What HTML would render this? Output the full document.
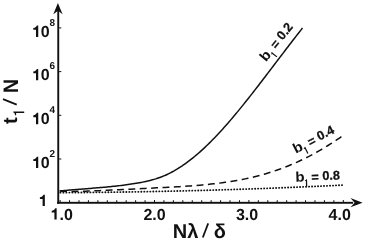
<!DOCTYPE html>
<html><head><meta charset="utf-8"><style>
html,body{margin:0;padding:0;background:#fff;}
svg{display:block;filter:grayscale(1);}
text{font-family:"Liberation Sans",sans-serif;font-weight:bold;text-rendering:geometricPrecision;}
.t16{font-size:16px;}
.t8{font-size:10px;}
.lb{font-size:14px;}
.lv{font-size:12.7px;stroke:#111;stroke-width:0.25px;}
</style></head><body>
<svg width="366" height="241" viewBox="0 0 366 241">
<rect width="366" height="241" fill="#fff"/>
<g fill="#111">
<rect x="57.3" y="10" width="1.9" height="193.8"/>
<rect x="57.1" y="201.85" width="296" height="1.9"/>
<polygon points="57.9,2.9 62.6,14.3 58.1,10.8 53.3,14.3"/>
<polygon points="362.6,202.75 350.5,198.0 354.6,202.75 350.5,207.3"/>
<rect x="59.60" y="200" width="1" height="2.5"/>
<rect x="69.04" y="200.2" width="1" height="2"/>
<rect x="78.48" y="200.2" width="1" height="2"/>
<rect x="87.92" y="200.2" width="1" height="2"/>
<rect x="97.36" y="200.2" width="1" height="2"/>
<rect x="106.80" y="200.2" width="1" height="2"/>
<rect x="116.24" y="200.2" width="1" height="2"/>
<rect x="125.68" y="200.2" width="1" height="2"/>
<rect x="135.12" y="200.2" width="1" height="2"/>
<rect x="144.56" y="200.2" width="1" height="2"/>
<rect x="154.00" y="200" width="1" height="2.5"/>
<rect x="163.44" y="200.2" width="1" height="2"/>
<rect x="172.88" y="200.2" width="1" height="2"/>
<rect x="182.32" y="200.2" width="1" height="2"/>
<rect x="191.76" y="200.2" width="1" height="2"/>
<rect x="201.20" y="200.2" width="1" height="2"/>
<rect x="210.64" y="200.2" width="1" height="2"/>
<rect x="220.08" y="200.2" width="1" height="2"/>
<rect x="229.52" y="200.2" width="1" height="2"/>
<rect x="238.96" y="200.2" width="1" height="2"/>
<rect x="248.40" y="200" width="1" height="2.5"/>
<rect x="257.84" y="200.2" width="1" height="2"/>
<rect x="267.28" y="200.2" width="1" height="2"/>
<rect x="276.72" y="200.2" width="1" height="2"/>
<rect x="286.16" y="200.2" width="1" height="2"/>
<rect x="295.60" y="200.2" width="1" height="2"/>
<rect x="305.04" y="200.2" width="1" height="2"/>
<rect x="314.48" y="200.2" width="1" height="2"/>
<rect x="323.92" y="200.2" width="1" height="2"/>
<rect x="333.36" y="200.2" width="1" height="2"/>
<rect x="342.80" y="200" width="1" height="2.5"/>
<rect x="59.1" y="158.50" width="2.2" height="1"/>
<rect x="59.1" y="114.80" width="2.2" height="1"/>
<rect x="59.1" y="71.10" width="2.2" height="1"/>
<rect x="59.1" y="27.40" width="2.2" height="1"/>
</g>
<g fill="none" stroke="#111" stroke-width="1.5">
<path d="M59.50,191.03 L61.13,190.86 L62.76,190.70 L64.39,190.55 L66.02,190.39 L67.65,190.24 L69.29,190.10 L70.92,189.96 L72.55,189.82 L74.18,189.68 L75.81,189.55 L77.44,189.41 L79.07,189.28 L80.70,189.15 L82.33,189.02 L83.96,188.89 L85.59,188.77 L87.22,188.64 L88.86,188.51 L90.49,188.38 L92.12,188.25 L93.75,188.12 L95.38,187.99 L97.01,187.85 L98.64,187.72 L100.27,187.58 L101.90,187.44 L103.53,187.29 L105.16,187.14 L106.80,186.99 L108.43,186.84 L110.06,186.68 L111.69,186.52 L113.32,186.35 L114.95,186.17 L116.58,185.99 L118.21,185.81 L119.84,185.62 L121.47,185.42 L123.10,185.22 L124.73,185.01 L126.37,184.79 L128.00,184.57 L129.63,184.33 L131.26,184.09 L132.89,183.84 L134.52,183.58 L136.15,183.32 L137.78,183.04 L139.41,182.75 L141.04,182.45 L142.67,182.13 L144.31,181.80 L145.94,181.45 L147.57,181.07 L149.20,180.68 L150.83,180.26 L152.46,179.82 L154.09,179.35 L155.72,178.86 L157.35,178.33 L158.98,177.77 L160.61,177.18 L162.24,176.56 L163.88,175.89 L165.51,175.19 L167.14,174.45 L168.77,173.67 L170.40,172.86 L172.03,172.00 L173.66,171.11 L175.29,170.17 L176.92,169.21 L178.55,168.20 L180.18,167.16 L181.82,166.09 L183.45,164.97 L185.08,163.83 L186.71,162.65 L188.34,161.44 L189.97,160.19 L191.60,158.92 L193.23,157.61 L194.86,156.27 L196.49,154.89 L198.12,153.49 L199.76,152.06 L201.39,150.60 L203.02,149.11 L204.65,147.59 L206.28,146.04 L207.91,144.47 L209.54,142.87 L211.17,141.24 L212.80,139.58 L214.43,137.90 L216.06,136.20 L217.69,134.47 L219.33,132.72 L220.96,130.95 L222.59,129.15 L224.22,127.34 L225.85,125.50 L227.48,123.64 L229.11,121.77 L230.74,119.87 L232.37,117.96 L234.00,116.03 L235.63,114.08 L237.27,112.12 L238.90,110.14 L240.53,108.14 L242.16,106.14 L243.79,104.12 L245.42,102.08 L247.05,100.04 L248.68,97.98 L250.31,95.91 L251.94,93.84 L253.57,91.75 L255.20,89.65 L256.84,87.55 L258.47,85.44 L260.10,83.32 L261.73,81.20 L263.36,79.07 L264.99,76.93 L266.62,74.79 L268.25,72.65 L269.88,70.51 L271.51,68.36 L273.14,66.21 L274.78,64.06 L276.41,61.91 L278.04,59.76 L279.67,57.62 L281.30,55.47 L282.93,53.33 L284.56,51.19 L286.19,49.05 L287.82,46.92 L289.45,44.79 L291.08,42.67 L292.71,40.55 L294.35,38.45 L295.98,36.35 L297.61,34.26 L299.24,32.17 L300.87,30.10 L302.50,28.04"/>
<path d="M59.50,191.19 L62.36,191.28 L65.21,191.35 L68.07,191.38 L70.93,191.39 L73.78,191.38 L76.64,191.36 L79.50,191.31 L82.35,191.25 L85.21,191.18 L88.07,191.09 L90.92,190.99 L93.78,190.89 L96.64,190.77 L99.49,190.65 L102.35,190.52 L105.21,190.39 L108.06,190.26 L110.92,190.12 L113.77,189.98 L116.63,189.84 L119.49,189.70 L122.34,189.56 L125.20,189.41 L128.06,189.27 L130.91,189.13 L133.77,188.99 L136.63,188.85 L139.48,188.71 L142.34,188.57 L145.20,188.43 L148.05,188.29 L150.91,188.15 L153.77,188.01 L156.62,187.87 L159.48,187.73 L162.34,187.58 L165.19,187.43 L168.05,187.28 L170.91,187.13 L173.76,186.97 L176.62,186.81 L179.48,186.64 L182.33,186.46 L185.19,186.28 L188.05,186.09 L190.90,185.88 L193.76,185.67 L196.62,185.45 L199.47,185.21 L202.33,184.96 L205.18,184.70 L208.04,184.42 L210.90,184.12 L213.75,183.81 L216.61,183.48 L219.47,183.12 L222.32,182.75 L225.18,182.35 L228.04,181.94 L230.89,181.49 L233.75,181.03 L236.61,180.53 L239.46,180.01 L242.32,179.46 L245.18,178.88 L248.03,178.27 L250.89,177.63 L253.75,176.95 L256.60,176.24 L259.46,175.50 L262.32,174.72 L265.17,173.91 L268.03,173.05 L270.89,172.16 L273.74,171.23 L276.60,170.27 L279.46,169.26 L282.31,168.21 L285.17,167.11 L288.03,165.98 L290.88,164.80 L293.74,163.58 L296.59,162.32 L299.45,161.01 L302.31,159.66 L305.16,158.27 L308.02,156.83 L310.88,155.34 L313.73,153.81 L316.59,152.24 L319.45,150.62 L322.30,148.96 L325.16,147.25 L328.02,145.50 L330.87,143.70 L333.73,141.87 L336.59,139.99 L339.44,138.07 L342.30,136.10" stroke-dasharray="6.9 4.484" stroke-dashoffset="10.764"/>
<path d="M59.50,192.66 L62.37,192.64 L65.24,192.63 L68.11,192.61 L70.97,192.59 L73.84,192.57 L76.71,192.55 L79.58,192.52 L82.45,192.50 L85.32,192.48 L88.19,192.45 L91.06,192.42 L93.92,192.39 L96.79,192.36 L99.66,192.33 L102.53,192.30 L105.40,192.26 L108.27,192.23 L111.14,192.19 L114.01,192.15 L116.87,192.11 L119.74,192.07 L122.61,192.03 L125.48,191.99 L128.35,191.95 L131.22,191.90 L134.09,191.85 L136.95,191.81 L139.82,191.76 L142.69,191.71 L145.56,191.66 L148.43,191.60 L151.30,191.55 L154.17,191.49 L157.04,191.44 L159.90,191.38 L162.77,191.32 L165.64,191.26 L168.51,191.20 L171.38,191.13 L174.25,191.07 L177.12,191.00 L179.98,190.94 L182.85,190.87 L185.72,190.80 L188.59,190.73 L191.46,190.66 L194.33,190.59 L197.20,190.51 L200.07,190.44 L202.93,190.36 L205.80,190.28 L208.67,190.20 L211.54,190.12 L214.41,190.04 L217.28,189.96 L220.15,189.87 L223.02,189.79 L225.88,189.70 L228.75,189.61 L231.62,189.52 L234.49,189.43 L237.36,189.34 L240.23,189.25 L243.10,189.15 L245.96,189.06 L248.83,188.96 L251.70,188.86 L254.57,188.76 L257.44,188.66 L260.31,188.56 L263.18,188.46 L266.05,188.35 L268.91,188.25 L271.78,188.14 L274.65,188.03 L277.52,187.92 L280.39,187.81 L283.26,187.70 L286.13,187.59 L288.99,187.47 L291.86,187.36 L294.73,187.24 L297.60,187.12 L300.47,187.00 L303.34,186.88 L306.21,186.76 L309.08,186.63 L311.94,186.51 L314.81,186.38 L317.68,186.26 L320.55,186.13 L323.42,186.00 L326.29,185.87 L329.16,185.74 L332.03,185.60 L334.89,185.47 L337.76,185.33 L340.63,185.19 L343.50,185.06" stroke-dasharray="0.2 2.797" stroke-dashoffset="2.181" stroke-linecap="round" stroke-width="1.8"/>
</g>
<g fill="#111">
<path transform="translate(32.20,36.90) scale(0.01600)" d="M378,0L378,-710L290,-710C270,-640 200,-570 69,-555L69,-440L238,-440L238,0Z"/><text x="40.7" y="36.9" class="t16">0</text><text x="49.5" y="25.7" class="t8">8</text>
<path transform="translate(32.20,80.30) scale(0.01600)" d="M378,0L378,-710L290,-710C270,-640 200,-570 69,-555L69,-440L238,-440L238,0Z"/><text x="40.7" y="80.3" class="t16">0</text><text x="49.5" y="69.1" class="t8">6</text>
<path transform="translate(32.20,124.20) scale(0.01600)" d="M378,0L378,-710L290,-710C270,-640 200,-570 69,-555L69,-440L238,-440L238,0Z"/><text x="40.7" y="124.2" class="t16">0</text><text x="49.5" y="113.0" class="t8">4</text>
<path transform="translate(32.20,168.10) scale(0.01600)" d="M378,0L378,-710L290,-710C270,-640 200,-570 69,-555L69,-440L238,-440L238,0Z"/><text x="40.7" y="168.1" class="t16">0</text><text x="49.5" y="156.9" class="t8">2</text>
<path transform="translate(38.80,206.10) scale(0.01600)" d="M378,0L378,-710L290,-710C270,-640 200,-570 69,-555L69,-440L238,-440L238,0Z"/>
<path transform="translate(50.60,219.60) scale(0.01600)" d="M378,0L378,-710L290,-710C270,-640 200,-570 69,-555L69,-440L238,-440L238,0Z"/><text x="59.6" y="219.8" class="t16">.0</text>
<text x="154.6" y="219.8" class="t16" text-anchor="middle">2.0</text>
<text x="247.1" y="219.8" class="t16" text-anchor="middle">3.0</text>
<text x="339.7" y="219.8" class="t16" text-anchor="middle">4.0</text>
<text x="172.7" y="237.8" style="font-size:20px">N</text><text x="187.2" y="237.8" style="font-size:20px">λ</text>
<line x1="202.8" y1="237.5" x2="208.2" y2="223.4" stroke="#111" stroke-width="1.75"/>
<text x="213.8" y="237.8" style="font-size:20px">δ</text>
<g transform="translate(17.2,123.6) rotate(-90)">
<text x="-0.4" y="0" style="font-size:20px">t</text>
<path transform="translate(6.10,7.00) scale(0.01550)" d="M395,0L395,-703L320,-703C300,-640 250,-600 150,-590L150,-520L285,-520L285,0Z"/>
<line x1="19.0" y1="-0.5" x2="24.5" y2="-14.2" stroke="#111" stroke-width="1.75"/>
<text x="32.9" y="0.3" style="font-size:21px" transform="scale(0.93,1)">N</text>
</g>
<g transform="translate(295.5,181.3) rotate(-2)">
<text x="0" y="0.4" class="lb" transform="scale(1.08,1)">b</text><path transform="translate(7.40,5.60) scale(0.01020)" d="M410,0L410,-703L330,-703C315,-650 280,-615 200,-605L200,-545L290,-545L290,0Z"/><text x="16.1" y="-0.35" class="lv"><tspan dy="1">=</tspan><tspan dy="-1"> 0.8</tspan></text>
</g>
<g transform="translate(295.6,153.4) rotate(-27)">
<text x="0" y="0.4" class="lb" transform="scale(1.08,1)">b</text><path transform="translate(7.40,5.60) scale(0.01020)" d="M410,0L410,-703L330,-703C315,-650 280,-615 200,-605L200,-545L290,-545L290,0Z"/><text x="16.1" y="-0.35" class="lv"><tspan dy="1">=</tspan><tspan dy="-1"> 0.4</tspan></text>
</g>
<g transform="translate(265.7,61.9) rotate(-51)">
<text x="0" y="0.4" class="lb" transform="scale(1.08,1)">b</text><path transform="translate(7.40,5.60) scale(0.01020)" d="M410,0L410,-703L330,-703C315,-650 280,-615 200,-605L200,-545L290,-545L290,0Z"/><text x="16.1" y="-0.35" class="lv"><tspan dy="1">=</tspan><tspan dy="-1"> 0.2</tspan></text>
</g>
</g>
</svg>
</body></html>
